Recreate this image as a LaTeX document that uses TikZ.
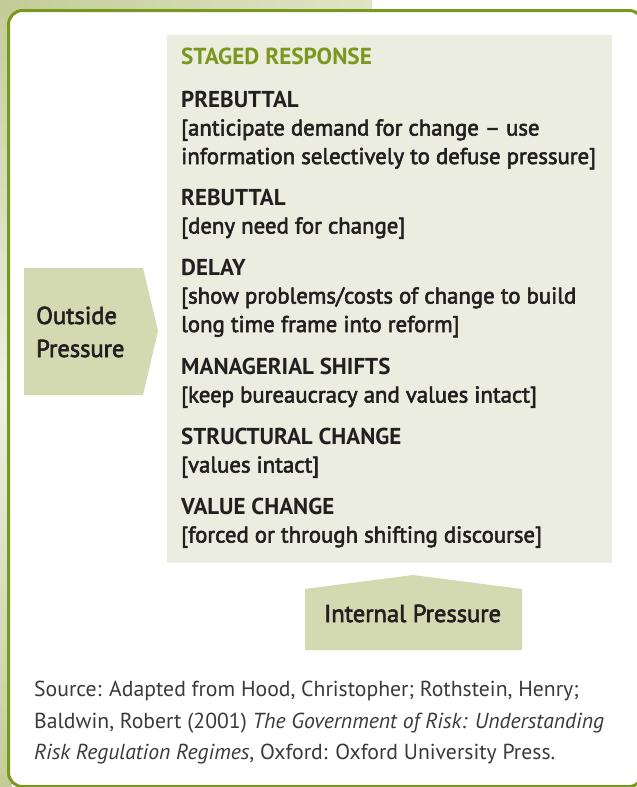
\documentclass[tikz,border=0pt]{standalone}
\usepackage{fontspec}
\setmainfont{PT Sans}
\newfontfamily\medfont{PT Sans}[FakeBold=2.5]
\definecolor{olive}{HTML}{7A971E}
\definecolor{panelbg}{HTML}{EBEDE0}
\definecolor{arrowbg}{HTML}{D3D9B0}
\definecolor{ink}{HTML}{231F20}
\definecolor{srcink}{HTML}{3A3A3A}
\definecolor{bgA}{HTML}{C3CC98}
\definecolor{bgB}{HTML}{EEF0E2}
\definecolor{bgC}{HTML}{E0E5C6}
\tikzset{
  line/.style={anchor=base west, inner sep=0pt, text=ink},
  head/.style={line, font=\fontsize{23}{27}\selectfont\bfseries},
  body/.style={line, font=\fontsize{22.8}{27}\selectfont\medfont},
  title/.style={line, text=olive, font=\fontsize{23.2}{27}\selectfont\bfseries},
  press/.style={line, font=\fontsize{24.5}{29}\selectfont\medfont},
  src/.style={line, text=srcink, font=\fontsize{21.7}{26}\selectfont},
  tag/.style={fill=arrowbg, draw=none},
}
\begin{document}
\begin{tikzpicture}[x=1pt, y=-1pt]
\useasboundingbox (0,0) rectangle (637,787);
\clip (0,0) rectangle (637,787);

% textured margin behind the frame
\shade[top color=bgA, bottom color=bgA, middle color=bgB] (0,0) rectangle (12,787);
\shade[left color=bgA, right color=bgC] (0,0) rectangle (372,14);

% rounded frame
\draw[olive, line width=3pt, fill=white, rounded corners=14pt] (8.5,10.5) rectangle (643,786.5);

% staged response panel
\fill[panelbg] (167,35) rectangle (612,563);

% outside pressure tag
\fill[tag] (24,268) -- (143,268) -- (158,331) -- (143,395) -- (24,395) -- cycle;
\node[press] (out1) at (36,324) {Outside};
\node[press] (out2) at (36,357) {Pressure};

% internal pressure tag
\fill[tag] (305,589) -- (413,575) -- (522,589) -- (522,650) -- (305,650) -- cycle;
\node[press] (inp) at (324,622) {Internal Pressure};

% panel text
\node[title] (t0) at (181,64) {STAGED RESPONSE};
\node[head] (h1) at (181,107) {PREBUTTAL};
\node[body] (b1a) at (181,135.5) {[anticipate demand for change – use};
\node[body] (b1b) at (181,164) {information selectively to defuse pressure]};
\node[head] (h2) at (181,205) {REBUTTAL};
\node[body] (b2) at (181,233.5) {[deny need for change]};
\node[head] (h3) at (181,275) {DELAY};
\node[body] (b3a) at (181,303.5) {[show problems/costs of change to build};
\node[body] (b3b) at (181,332) {long time frame into reform]};
\node[head] (h4) at (181,374) {MANAGERIAL SHIFTS};
\node[body] (b4) at (181,402.5) {[keep bureaucracy and values intact]};
\node[head] (h5) at (181,444) {STRUCTURAL CHANGE};
\node[body] (b5) at (181,472.5) {[values intact]};
\node[head] (h6) at (181,514) {VALUE CHANGE};
\node[body] (b6) at (181,542.5) {[forced or through shifting discourse]};

% source note
\node[src] (s1) at (34,696) {Source: Adapted from Hood, Christopher; Rothstein, Henry;};
\node[src] (s2) at (34,728) {Baldwin, Robert (2001) \textit{The Government of Risk: Understanding}};
\node[src] (s3) at (34,759) {\textit{Risk Regulation Regimes}, Oxford: Oxford University Press.};
\end{tikzpicture}
\end{document}
